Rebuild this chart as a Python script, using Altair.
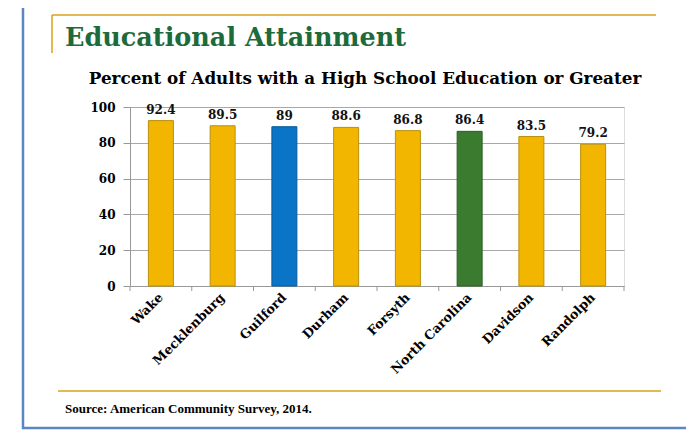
import altair as alt
import pandas as pd

categories = ["Wake", "Mecklenburg", "Guilford", "Durham", "Forsyth",
              "North Carolina", "Davidson", "Randolph"]
values = [92.4, 89.5, 89, 88.6, 86.8, 86.4, 83.5, 79.2]
bar_colors = ["#F2B600", "#F2B600", "#0A74C6", "#F2B600", "#F2B600",
              "#3A7B30", "#F2B600", "#F2B600"]
stroke_colors = ["#B8900A", "#B8900A", "#0A5A98", "#B8900A", "#B8900A",
                 "#2C5E24", "#B8900A", "#B8900A"]
y_ticks = [0, 20, 40, 60, 80, 100]

title_text = "Educational Attainment"
subtitle_text = "Percent of Adults with a High School Education or Greater"
source_text = "Source: American Community Survey, 2014."

df = pd.DataFrame({"cat": categories, "val": values,
                   "color": bar_colors, "stroke": stroke_colors})
df["label"] = [("%g" % v) for v in values]

W, H = 494, 179
SERIF = "Liberation Serif"
WIDE = "DejaVu Serif"

x_axis = alt.Axis(labelAngle=-45, labelAlign="right", labelBaseline="middle",
                  labelFont=WIDE, labelFontSize=12.8, labelFontWeight="bold",
                  labelColor="#000", ticks=False, domainColor="#999",
                  labelPadding=9, labelOverlap=False, labelLimit=0)
x_scale = alt.Scale(paddingInner=0, paddingOuter=0)
x = alt.X("cat:N", sort=categories, title=None, scale=x_scale, axis=x_axis)
y = alt.Y("val:Q", title=None,
          scale=alt.Scale(domain=[0, 100], nice=False),
          axis=alt.Axis(values=y_ticks, tickCount=6, labelFont=WIDE, labelFontSize=12,
                        labelFontWeight="bold", labelColor="#000", tickSize=7,
                        tickColor="#999", domainColor="#999", gridColor="#A8A8A8",
                        labelPadding=8, labelOverlap=False))

base = alt.Chart(df)
bars = base.mark_bar(size=25, strokeWidth=1).encode(
    x=x, y=y,
    color=alt.Color("color:N", scale=None),
    stroke=alt.Stroke("stroke:N", scale=None),
)
labels = base.mark_text(dy=-7, baseline="alphabetic", font=WIDE, fontSize=12,
                        fontWeight="bold", color="#111").encode(
    x=x, y=y, text="label:N")
ticks = base.mark_rule(color="#999").encode(
    x=alt.X("cat:N", sort=categories, title=None, scale=x_scale, axis=x_axis,
            bandPosition=0),
    y=alt.value(H), y2=alt.value(H + 5))
last_tick = alt.Chart(pd.DataFrame({"a": [0]})).mark_rule(color="#999").encode(
    x=alt.value(W), y=alt.value(H), y2=alt.value(H + 5))

one = pd.DataFrame({"t": [title_text]})
title = alt.Chart(one).mark_text(align="left", baseline="alphabetic", font=WIDE,
                                 fontSize=25.5, fontWeight="bold", color="#1D6B3B").encode(
    x=alt.value(-65), y=alt.value(-61), text="t:N")
subtitle = alt.Chart(pd.DataFrame({"t": [subtitle_text]})).mark_text(
    align="center", baseline="alphabetic", font=WIDE, fontSize=16.8,
    fontWeight="bold", color="#000").encode(
    x=alt.value(235), y=alt.value(-23), text="t:N")
source = alt.Chart(pd.DataFrame({"t": [source_text]})).mark_text(
    align="left", baseline="alphabetic", font=SERIF, fontSize=13,
    fontWeight="bold", color="#000").encode(
    x=alt.value(-65), y=alt.value(306), text="t:N")

gold = "#D9A21B"
blue = "#5A86C4"
g1 = alt.Chart(one).mark_rule(color=gold, strokeWidth=1.5).encode(
    x=alt.value(-78), x2=alt.value(526), y=alt.value(-92))
g2 = alt.Chart(one).mark_rule(color=gold, strokeWidth=1.5).encode(
    x=alt.value(-78), y=alt.value(-92), y2=alt.value(-54))
g3 = alt.Chart(one).mark_rule(color=gold, strokeWidth=1.5).encode(
    x=alt.value(-72), x2=alt.value(531), y=alt.value(284))
b1 = alt.Chart(one).mark_rule(color=blue, strokeWidth=2.5).encode(
    x=alt.value(-107), y=alt.value(-110), y2=alt.value(322))
b2 = alt.Chart(one).mark_rule(color=blue, strokeWidth=2.5).encode(
    x=alt.value(-108), x2=alt.value(600), y=alt.value(321))

chart = alt.layer(bars, labels, ticks, last_tick, title, subtitle, source,
                  g1, g2, g3, b1, b2).properties(
    width=W, height=H,
    autosize=alt.AutoSizeParams(type="none"),
    padding={"left": 122, "top": 99, "right": 62, "bottom": 144},
).configure_view(stroke=None, strokeWidth=0).configure(background="white")

chart.save("out.html", embed_options={"renderer": "svg", "actions": False})
